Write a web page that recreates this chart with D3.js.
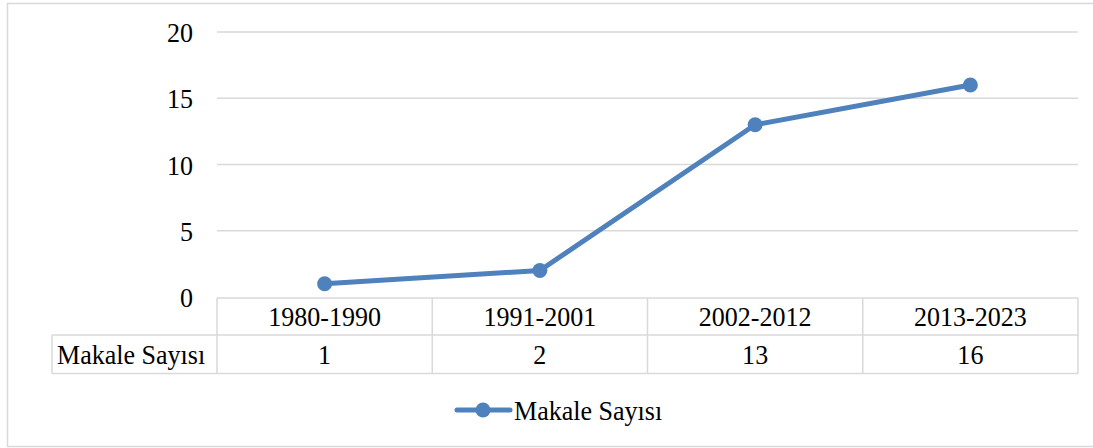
<!DOCTYPE html>
<html>
<head>
<meta charset="utf-8">
<script src="https://cdn.jsdelivr.net/npm/d3@7"></script>
<style>
  body { margin: 0; background: #fff; }
  svg text { font-family: "Liberation Serif", "Times New Roman", serif; fill: #000; }
</style>
</head>
<body>
<svg id="chart" width="1093" height="448"></svg>
<script>
// data
const categories = ["1980-1990", "1991-2001", "2002-2012", "2013-2023"];
const seriesName = "Makale Sayısı";
const values = [1, 2, 13, 16];
const yTicks = [0, 5, 10, 15, 20];

const svg = d3.select("#chart");
const blue = "#4f81bd";
const grid = "#d9d9d9";
const fs = 28;

// outer frame
svg.append("rect")
  .attr("x", 7.5).attr("y", 3.5)
  .attr("width", 1100).attr("height", 443)
  .attr("fill", "#fff").attr("stroke", grid).attr("stroke-width", 1.5);

// scales
const x = d3.scaleBand().domain(categories).range([217, 1078]);
const y = d3.scaleLinear().domain([0, 20]).range([297, 32]);

// text helper (narrow Times-like look)
function label(g, tx, ty, str, anchor) {
  return g.append("text")
    .attr("transform", "translate(" + tx + "," + ty + ") scale(0.93,1)")
    .attr("text-anchor", anchor || "middle")
    .style("font-size", fs + "px")
    .text(str);
}

// gridlines + y labels
const gy = svg.append("g");
yTicks.forEach(t => {
  if (t > 0) {
    gy.append("line")
      .attr("x1", 217).attr("x2", 1078)
      .attr("y1", y(t)).attr("y2", y(t))
      .attr("stroke", grid).attr("stroke-width", 1.5);
  }
  label(gy, 193, y(t) + 10, t, "end");
});

// data table
const rowTop = y(0) + 1, rowMid = 335, rowBot = 373.5, leftCell = 52;
const tb = svg.append("g").attr("stroke", grid).attr("stroke-width", 1.5);
tb.append("line").attr("x1", 217).attr("x2", 1078).attr("y1", rowTop).attr("y2", rowTop);
tb.append("line").attr("x1", leftCell).attr("x2", 1078).attr("y1", rowMid).attr("y2", rowMid);
tb.append("line").attr("x1", leftCell).attr("x2", 1078).attr("y1", rowBot).attr("y2", rowBot);
tb.append("line").attr("x1", leftCell).attr("x2", leftCell).attr("y1", rowMid).attr("y2", rowBot);
categories.forEach(c => {
  tb.append("line").attr("x1", x(c)).attr("x2", x(c)).attr("y1", rowTop).attr("y2", rowBot);
});
tb.append("line").attr("x1", 1078).attr("x2", 1078).attr("y1", rowTop).attr("y2", rowBot);

const tt = svg.append("g");
categories.forEach((c, i) => {
  const cx = x(c) + x.bandwidth() / 2;
  label(tt, cx, 326, c);
  label(tt, cx, 364, values[i]);
});
label(tt, 57, 364, seriesName, "start");

// line
const line = d3.line()
  .x((d, i) => x(categories[i]) + x.bandwidth() / 2)
  .y(d => y(d));

svg.append("path")
  .datum(values)
  .attr("d", line)
  .attr("fill", "none")
  .attr("stroke", blue)
  .attr("stroke-width", 5)
  .attr("stroke-linejoin", "round");

svg.selectAll(".pt")
  .data(values)
  .enter().append("circle")
  .attr("cx", (d, i) => x(categories[i]) + x.bandwidth() / 2)
  .attr("cy", d => y(d))
  .attr("r", 7.5)
  .attr("fill", blue);

// legend
const lg = svg.append("g");
lg.append("line")
  .attr("x1", 457).attr("x2", 510).attr("y1", 410).attr("y2", 410)
  .attr("stroke", blue).attr("stroke-width", 5).attr("stroke-linecap", "round");
lg.append("circle").attr("cx", 483).attr("cy", 410).attr("r", 7.5).attr("fill", blue);
label(lg, 514, 420, seriesName, "start");
</script>
</body>
</html>
